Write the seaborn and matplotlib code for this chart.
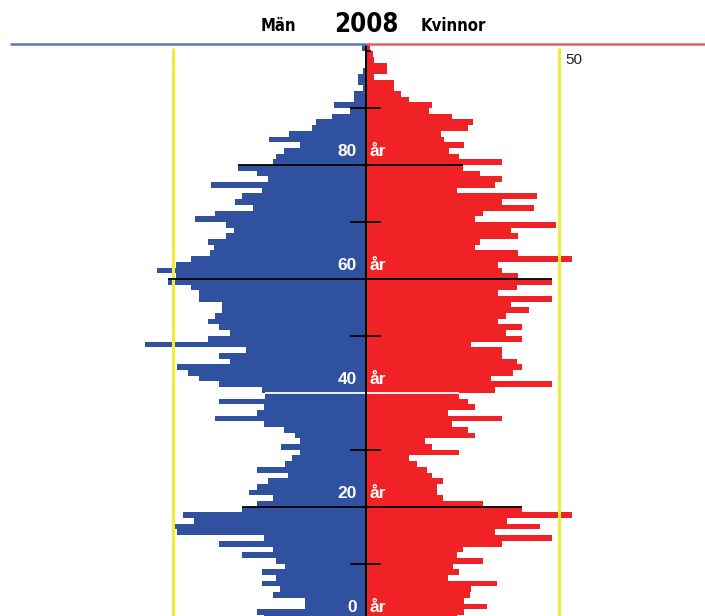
import numpy as np
import pandas as pd
import matplotlib
matplotlib.use("Agg")
import matplotlib.pyplot as plt
import seaborn as sns

# population per age (0..100)
ages = np.arange(0, 101)
men = [26.5, 28.2, 16.0, 16.0, 24.1, 22.3, 27.1, 23.4, 27.1, 21.2,
       23.4, 32.3, 24.1, 38.1, 26.4, 49.1, 49.6, 44.6, 47.4, 32.3,
       28.2, 24.1, 30.4, 28.2, 25.4, 20.2, 28.2, 21.2, 19.3, 17.2,
       22.2, 17.2, 18.4, 21.3, 26.4, 39.2, 28.2, 26.4, 38.2, 26.3,
       27.1, 38.2, 43.3, 46.3, 49.1, 35.3, 38.2, 31.2, 57.3, 41.1,
       35.3, 38.2, 41.1, 39.2, 37.5, 37.5, 43.3, 43.3, 45.3, 51.3,
       49.3, 54.3, 49.3, 45.3, 40.5, 39.4, 41.1, 36.4, 34.2, 36.4,
       44.4, 39.2, 29.3, 34.0, 32.3, 27.1, 40.3, 25.4, 28.2, 33.3,
       24.1, 23.4, 21.3, 17.2, 25.3, 20.1, 14.2, 13.1, 9.0, 4.2,
       8.3, 3.1, 3.1, 1.0, 2.1, 2.1, 1.0, 0.0, 0.0, 0.0,
       1.2]
women = [23.4, 25.3, 31.2, 25.3, 26.9, 27.1, 33.9, 21.2, 24.1, 22.4,
         30.3, 23.4, 25.1, 35.1, 48.0, 33.3, 45.0, 36.4, 53.2, 40.2,
         30.3, 19.9, 18.2, 18.2, 19.9, 17.1, 15.6, 13.0, 11.1, 24.1,
         17.1, 15.2, 28.2, 26.4, 22.3, 35.1, 21.2, 28.2, 26.4, 24.1,
         33.2, 48.0, 32.2, 38.1, 40.2, 39.1, 35.1, 35.1, 27.0, 40.2,
         36.1, 40.2, 34.0, 36.1, 42.1, 37.4, 48.0, 34.0, 39.1, 48.0,
         39.2, 35.1, 34.0, 53.2, 39.2, 28.2, 29.3, 39.2, 37.4, 49.1,
         28.2, 30.3, 43.3, 35.1, 44.3, 23.4, 33.3, 35.1, 29.3, 25.1,
         35.1, 24.1, 21.3, 25.2, 20.0, 19.4, 26.4, 27.5, 22.3, 16.1,
         17.1, 11.1, 9.0, 7.2, 7.2, 2.1, 5.3, 5.3, 2.0, 1.6,
         1.0]

label_ages = [0, 20, 40, 60, 80]
mark_ages = [20, 40, 60, 80]
mark_colors = ["black", "white", "black", "black"]
tick_ages = [10, 30, 50, 70, 90]
year = "2008"

BLUE = "#3050A0"
RED = "#F02226"
YELLOW = "#EEEE3A"

df = pd.DataFrame({"age": ages, "men": -np.array(men), "women": np.array(women)})

fig = plt.figure(figsize=(7.05, 6.16), dpi=100)
ax = fig.add_axes([10 / 705, 0, 695 / 705, 572 / 616])

sns.barplot(data=df, x="men", y="age", orient="y", native_scale=True,
            width=1, color=BLUE, saturation=1, errorbar=None,
            linewidth=0, ax=ax)
sns.barplot(data=df, x="women", y="age", orient="y", native_scale=True,
            width=1, color=RED, saturation=1, errorbar=None,
            linewidth=0, ax=ax)

ax.set_xlim(-92.3, 87.7)
ax.set_ylim(0.31, 100.75)
ax.axis("off")

# yellow 50-lines
ax.vlines([-50, 50], 0, 100.0, color=YELLOW, lw=2.2, zorder=3)
ax.text(51.6, 97.9, "50", ha="left", va="center", fontsize=11,
        family="Liberation Sans", color="#222222")

# lines over the bar below each 20-year mark
for a, c in zip(mark_ages, mark_colors):
    ax.hlines(a - 0.5, -men[a - 1], women[a - 1], color=c, lw=1.3, zorder=4)

# centre line and ticks
ax.axvline(0, color="black", lw=1.4, zorder=5)
for a in tick_ages:
    ax.hlines(a - 0.5, -4.2, 3.7, color="black", lw=1.3, zorder=5)
ax.hlines(99.5, 0, 1.1, color="black", lw=1.3, zorder=5)

for a in label_ages:
    ax.text(-2.4, a + 1.8, str(a), ha="right", va="center", color="white",
            fontsize=12.5, fontweight="bold", family="Liberation Sans", zorder=6)
    ax.text(0.7, a + 1.8, "år", ha="left", va="center", color="white",
            fontsize=12.5, fontweight="bold", family="Liberation Sans", zorder=6)

# header line, blue half and red half
top = ax.get_ylim()[1]
ax.hlines(top, ax.get_xlim()[0], 0, color="#5A78C0", lw=1.8, clip_on=False, zorder=6)
ax.hlines(top, 0, ax.get_xlim()[1], color="#F05A5A", lw=1.8, clip_on=False, zorder=6)

head_font = ["DejaVu Sans"]
fig.text(278 / 705, 1 - 26 / 616, "Män", ha="center", va="center",
         fontsize=12, fontweight="bold", fontstretch="condensed", family=head_font)
fig.text(366 / 705, 1 - 25 / 616, year, ha="center", va="center",
         fontsize=18.5, fontweight="bold", fontstretch="condensed", family=head_font)
fig.text(453 / 705, 1 - 26 / 616, "Kvinnor", ha="center", va="center",
         fontsize=12, fontweight="bold", fontstretch="condensed", family=head_font)

fig.savefig("out.png", dpi=100)
